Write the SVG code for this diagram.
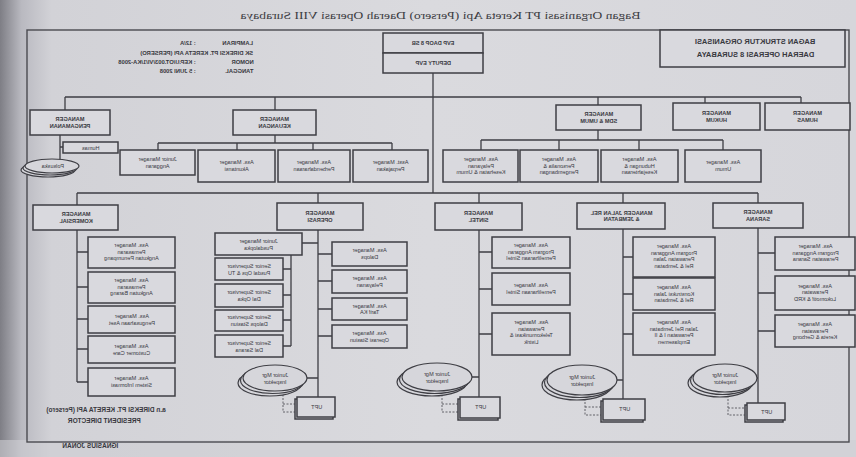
<svg xmlns="http://www.w3.org/2000/svg" width="856" height="457" viewBox="0 0 856 457">
<defs>
<linearGradient id="paper" x1="0" y1="0" x2="1" y2="0">
<stop offset="0" stop-color="#7e7e85"/>
<stop offset="0.025" stop-color="#b9b9c0"/>
<stop offset="0.06" stop-color="#d2d2d7"/>
<stop offset="0.5" stop-color="#dadade"/>
<stop offset="1" stop-color="#d6d6db"/>
</linearGradient>
</defs>
<style>
.b{fill:#d9d9de;stroke:#3e3e44;stroke-width:1.5}
.c{fill:none;stroke:#3e3e44;stroke-width:1.3}
.d{fill:none;stroke:#55555b;stroke-width:0.9;stroke-dasharray:2 1.5}
.e{fill:#d6d6db;stroke:#3e3e44;stroke-width:1.2}
text{font-family:"Liberation Sans",Arial,sans-serif;font-size:5.5px;fill:#38383e;text-anchor:middle;transform-box:fill-box;transform-origin:center;transform:scaleX(-1)}
.m{font-weight:bold;font-size:5.6px}
.ti{font-family:"Liberation Serif","Times New Roman",serif;font-size:10.5px;fill:#3c3c42}
.hd{font-weight:bold;font-size:7.5px}
.nt{font-size:5.8px;font-weight:bold;text-anchor:end}
.ft{font-size:6.5px;font-weight:bold}
</style>
<rect x="0" y="0" width="856" height="457" fill="url(#paper)"/>
<rect x="0" y="440" width="856" height="17" fill="#cfcfd4" opacity="0.6"/>

<!-- title and notes -->
<g id="title"><text class="ti" x="440" y="19" textLength="400" lengthAdjust="spacingAndGlyphs">Bagan Organisasi PT Kereta Api (Persero) Daerah Operasi VIII Surabaya</text></g>
<rect x="27" y="30" width="822" height="412" fill="none" stroke="#4a4a50" stroke-width="1.4"/>
<g id="note">
<text class="nt" x="253" y="45">LAMPIRAN</text><text class="nt" x="195" y="45">: 12/A</text>
<text class="nt" x="253" y="55">SK DIREKSI PT. KERETA API (PERSERO)</text>
<text class="nt" x="253" y="64">NOMOR</text><text class="nt" x="195" y="64">: KEP.U/OT.003/VI/1/KA-2008</text>
<text class="nt" x="253" y="73">TANGGAL</text><text class="nt" x="195" y="73">: 5 JUNI 2008</text>
</g>
<g id="n-title-box"><rect class="b" x="660" y="30" width="185" height="37"/>
<text class="hd" x="755" y="44">BAGAN STRUKTUR ORGANISASI</text>
<text class="hd" x="755" y="57">DAERAH OPERASI 8 SURABAYA</text></g>

<!-- connectors -->
<g id="connectors">
<path class="c" d="M433 73V193"/>
<path class="c" d="M65 97H801M65 97V110M275 97V110M598 97V105M705 97V103M801 97V103"/>
<path class="c" d="M60 135V160M60 147H63"/>
<path class="c" d="M275 135V143M158 143H392M158 143V150M237 143V150M313 143V150M392 143V150"/>
<path class="c" d="M598 130V140M481 140H723M481 140V150M559 140V150M639 140V150M723 140V150"/>
<path class="c" d="M77 193H758M77 193V205M318 193V203M479 193V203M623 193V203M758 193V203"/>
<path class="c" d="M77 230V382M77 252H88M77 287H88M77 319H88M77 349H88M77 382H88"/>
<path class="c" d="M318 230V397M302 243H318M291 255V346M283 269H291M283 295H291M283 320H291M283 346H291M318 254H332M318 281H332M318 309H332M318 336H332M307 378H318"/>
<path class="c" d="M479 230V397M479 252H492M479 289H492M479 334H492M472 377H479"/>
<path class="c" d="M623 229V399M623 257H633M623 294H633M623 334H633M617 380H623"/>
<path class="c" d="M758 228V403M758 253H775M758 293H775M758 331H775M757 378H758"/>
<path class="d" d="M283 391V412H297M283 404H297"/>
<path class="d" d="M442 391V412H460M442 404H460"/>
<path class="d" d="M585 395V415H603M585 407H603"/>
<path class="d" d="M728 392V415H747M728 408H747"/>
</g>

<!-- level 1 -->
<g id="n-evp"><rect class="b" x="383" y="33" width="100" height="20"/><text class="m" x="433" y="45">EVP DAOP 8 SB</text></g>
<g id="n-deputy"><rect class="b" x="383" y="53" width="100" height="20"/><text class="m" x="433" y="65">DEPUTY EVP</text></g>

<!-- level 2 -->
<g id="n-pengamanan"><rect class="b" x="30" y="110" width="80" height="25"/><text class="m" x="70" y="121"><tspan x="70">MANAGER</tspan><tspan x="70" dy="6.5">PENGAMANAN</tspan></text></g>
<g id="n-humas-kecil"><rect class="b" x="63" y="142" width="55" height="11"/><text x="90.5" y="149.5">Humas</text></g>
<g id="n-polsuska"><ellipse class="e" cx="48" cy="170" rx="27" ry="7"/><ellipse class="e" cx="50" cy="168" rx="27" ry="7"/><ellipse class="e" cx="52" cy="166" rx="27" ry="7"/><text x="52" y="168">Polsuska</text></g>

<g id="n-keuangan"><rect class="b" x="233" y="110" width="83" height="25"/><text class="m" x="274.5" y="121"><tspan x="274.5">MANAGER</tspan><tspan x="274.5" dy="6.5">KEUANGAN</tspan></text></g>
<g id="n-k1"><rect class="b" x="120" y="150" width="75" height="25"/><text x="157.5" y="161"><tspan x="157.5">Junior Manager</tspan><tspan x="157.5" dy="6.5">Anggaran</tspan></text></g>
<g id="n-k2"><rect class="b" x="198" y="150" width="77" height="32"/><text x="236.5" y="164"><tspan x="236.5">Ass. Manager</tspan><tspan x="236.5" dy="6.5">Akuntansi</tspan></text></g>
<g id="n-k3"><rect class="b" x="278" y="150" width="72" height="32"/><text x="314" y="164"><tspan x="314">Ass. Manager</tspan><tspan x="314" dy="6.5">Perbendaharaan</tspan></text></g>
<g id="n-k4"><rect class="b" x="353" y="150" width="75" height="32"/><text x="390.5" y="164"><tspan x="390.5">Asst. Manager</tspan><tspan x="390.5" dy="6.5">Perpajakan</tspan></text></g>

<g id="n-sdm"><rect class="b" x="556" y="105" width="85" height="25"/><text class="m" x="598.5" y="116"><tspan x="598.5">MANAGER</tspan><tspan x="598.5" dy="6.5">SDM &amp; UMUM</tspan></text></g>
<g id="n-s1"><rect class="b" x="443" y="150" width="75" height="32"/><text x="480.5" y="161"><tspan x="480.5">Ass. Manager</tspan><tspan x="480.5" dy="6.5">Pelayanan</tspan><tspan x="480.5" dy="6.5">Kesehatan &amp; Umum</tspan></text></g>
<g id="n-s2"><rect class="b" x="520" y="150" width="78" height="32"/><text x="559" y="161"><tspan x="559">Ass. Manager</tspan><tspan x="559" dy="6.5">Personalia &amp;</tspan><tspan x="559" dy="6.5">Pengembangan</tspan></text></g>
<g id="n-s3"><rect class="b" x="601" y="150" width="77" height="32"/><text x="639.5" y="161"><tspan x="639.5">Ass. Manager</tspan><tspan x="639.5" dy="6.5">Hubungan &amp;</tspan><tspan x="639.5" dy="6.5">Kesejahteraan</tspan></text></g>
<g id="n-s4"><rect class="b" x="685" y="150" width="76" height="32"/><text x="723" y="164"><tspan x="723">Ass. Manager</tspan><tspan x="723" dy="6.5">Umum</tspan></text></g>

<g id="n-hukum"><rect class="b" x="673" y="103" width="87" height="27"/><text class="m" x="716.5" y="115"><tspan x="716.5">MANAGER</tspan><tspan x="716.5" dy="6.5">HUKUM</tspan></text></g>
<g id="n-humas"><rect class="b" x="765" y="103" width="85" height="27"/><text class="m" x="807.5" y="115"><tspan x="807.5">MANAGER</tspan><tspan x="807.5" dy="6.5">HUMAS</tspan></text></g>

<!-- level 3: komersial -->
<g id="n-komersial"><rect class="b" x="33" y="205" width="85" height="25"/><text class="m" x="75.5" y="216"><tspan x="75.5">MANAGER</tspan><tspan x="75.5" dy="6.5">KOMERSIAL</tspan></text></g>
<g id="n-c1"><rect class="b" x="88" y="237" width="87" height="31"/><text x="131.5" y="247"><tspan x="131.5">Ass. Manager</tspan><tspan x="131.5" dy="6.5">Pemasaran</tspan><tspan x="131.5" dy="6.5">Angkutan Penumpang</tspan></text></g>
<g id="n-c2"><rect class="b" x="88" y="272" width="87" height="31"/><text x="131.5" y="282"><tspan x="131.5">Ass. Manager</tspan><tspan x="131.5" dy="6.5">Pemasaran</tspan><tspan x="131.5" dy="6.5">Angkutan Barang</tspan></text></g>
<g id="n-c3"><rect class="b" x="88" y="306" width="87" height="27"/><text x="131.5" y="318"><tspan x="131.5">Ass. Manager</tspan><tspan x="131.5" dy="6.5">Pengusahaan Aset</tspan></text></g>
<g id="n-c4"><rect class="b" x="88" y="336" width="87" height="27"/><text x="131.5" y="348"><tspan x="131.5">Ass. Manager</tspan><tspan x="131.5" dy="6.5">Customer Care</tspan></text></g>
<g id="n-c5"><rect class="b" x="88" y="368" width="87" height="28"/><text x="131.5" y="380"><tspan x="131.5">Ass. Manager</tspan><tspan x="131.5" dy="6.5">Sistem Informasi</tspan></text></g>

<!-- level 3: operasi -->
<g id="n-operasi"><rect class="b" x="277" y="203" width="86" height="27"/><text class="m" x="320" y="215"><tspan x="320">MANAGER</tspan><tspan x="320" dy="6.5">OPERASI</tspan></text></g>
<g id="n-oj"><rect class="b" x="215" y="233" width="87" height="22"/><text x="258.5" y="243"><tspan x="258.5">Junior Manager</tspan><tspan x="258.5" dy="6.5">Pusdalopka</tspan></text></g>
<g id="n-os1"><rect class="b" x="215" y="258" width="68" height="22"/><text x="249" y="268"><tspan x="249">Senior Supervisor</tspan><tspan x="249" dy="6.5">Pusdal Ops &amp; TU</tspan></text></g>
<g id="n-os2"><rect class="b" x="215" y="284" width="68" height="23"/><text x="249" y="294"><tspan x="249">Senior Supervisor</tspan><tspan x="249" dy="6.5">Dal Opka</tspan></text></g>
<g id="n-os3"><rect class="b" x="215" y="310" width="68" height="21"/><text x="249" y="319"><tspan x="249">Senior Supervisor</tspan><tspan x="249" dy="6.5">Dalops Stasiun</tspan></text></g>
<g id="n-os4"><rect class="b" x="215" y="335" width="68" height="22"/><text x="249" y="345"><tspan x="249">Senior Supervisor</tspan><tspan x="249" dy="6.5">Dal Sarana</tspan></text></g>
<g id="n-o1"><rect class="b" x="332" y="242" width="75" height="24"/><text x="369.5" y="252"><tspan x="369.5">Ass. Manager</tspan><tspan x="369.5" dy="6.5">Dalops</tspan></text></g>
<g id="n-o2"><rect class="b" x="332" y="270" width="75" height="23"/><text x="369.5" y="280"><tspan x="369.5">Ass. Manager</tspan><tspan x="369.5" dy="6.5">Pelayanan</tspan></text></g>
<g id="n-o3"><rect class="b" x="332" y="298" width="75" height="22"/><text x="369.5" y="307.5"><tspan x="369.5">Ass. Manager</tspan><tspan x="369.5" dy="6.5">Tarif KA</tspan></text></g>
<g id="n-o4"><rect class="b" x="332" y="325" width="75" height="23"/><text x="369.5" y="335"><tspan x="369.5">Ass. Manager</tspan><tspan x="369.5" dy="6.5">Operasi Stasiun</tspan></text></g>
<g id="n-oins"><ellipse class="e" cx="270" cy="383" rx="32" ry="13"/><ellipse class="e" cx="272.5" cy="380.5" rx="32" ry="13"/><ellipse class="e" cx="275" cy="378" rx="32" ry="13"/><text x="275" y="377"><tspan x="275">Junior Mgr</tspan><tspan x="275" dy="6.5">Inspektor</tspan></text></g>
<g id="n-oupt"><rect class="b" x="295" y="399" width="38" height="20"/><rect class="b" x="297" y="397" width="38" height="20"/><text x="316" y="409">UPT</text></g>

<!-- level 3: sintel -->
<g id="n-sintel"><rect class="b" x="435" y="203" width="87" height="27"/><text class="m" x="478.5" y="215"><tspan x="478.5">MANAGER</tspan><tspan x="478.5" dy="6.5">SINTEL</tspan></text></g>
<g id="n-i1"><rect class="b" x="492" y="237" width="78" height="31"/><text x="531" y="247"><tspan x="531">Ass. Manager</tspan><tspan x="531" dy="6.5">Program Anggaran</tspan><tspan x="531" dy="6.5">Pemeliharaan Sintel</tspan></text></g>
<g id="n-i2"><rect class="b" x="492" y="273" width="78" height="32"/><text x="531" y="287"><tspan x="531">Ass. Manager</tspan><tspan x="531" dy="6.5">Pemeliharaan Sintel</tspan></text></g>
<g id="n-i3"><rect class="b" x="492" y="313" width="78" height="42"/><text x="531" y="324"><tspan x="531">Ass. Manager</tspan><tspan x="531" dy="6.5">Perawatan</tspan><tspan x="531" dy="6.5">Telekomunikasi &amp;</tspan><tspan x="531" dy="6.5">Listrik</tspan></text></g>
<g id="n-iins"><ellipse class="e" cx="432" cy="382" rx="35" ry="14"/><ellipse class="e" cx="434.5" cy="379.5" rx="35" ry="14"/><ellipse class="e" cx="437" cy="377" rx="35" ry="14"/><text x="437" y="376"><tspan x="437">Junior Mgr</tspan><tspan x="437" dy="6.5">Inspektor</tspan></text></g>
<g id="n-iupt"><rect class="b" x="458" y="399" width="40" height="21"/><rect class="b" x="460" y="397" width="40" height="21"/><text x="480" y="409">UPT</text></g>

<!-- level 3: jalan rel -->
<g id="n-jalan"><rect class="b" x="577" y="203" width="88" height="26"/><text class="m" x="621" y="214.5"><tspan x="621">MANAGER JALAN REL</tspan><tspan x="621" dy="6.5">&amp; JEMBATAN</tspan></text></g>
<g id="n-j1"><rect class="b" x="633" y="237" width="82" height="40"/><text x="674" y="248"><tspan x="674">Ass. Manager</tspan><tspan x="674" dy="6.5">Program Anggaran</tspan><tspan x="674" dy="6.5">Perawatan Jalan</tspan><tspan x="674" dy="6.5">Rel &amp; Jembatan</tspan></text></g>
<g id="n-j2"><rect class="b" x="633" y="278" width="82" height="32"/><text x="674" y="289"><tspan x="674">Ass. Manager</tspan><tspan x="674" dy="6.5">Konstruksi Jalan</tspan><tspan x="674" dy="6.5">Rel &amp; Jembatan</tspan></text></g>
<g id="n-j3"><rect class="b" x="633" y="313" width="82" height="42"/><text x="674" y="324"><tspan x="674">Ass. Manager</tspan><tspan x="674" dy="6.5">Jalan Rel Jembatan</tspan><tspan x="674" dy="6.5">Perawatan I &amp; II</tspan><tspan x="674" dy="6.5">Emplasemen</tspan></text></g>
<g id="n-jins"><ellipse class="e" cx="577" cy="385" rx="35" ry="15"/><ellipse class="e" cx="579.5" cy="382.5" rx="35" ry="15"/><ellipse class="e" cx="582" cy="380" rx="35" ry="15"/><text x="582" y="379"><tspan x="582">Junior Mgr</tspan><tspan x="582" dy="6.5">Inspektor</tspan></text></g>
<g id="n-jupt"><rect class="b" x="601" y="401" width="42" height="21"/><rect class="b" x="603" y="399" width="42" height="21"/><text x="624" y="411">UPT</text></g>

<!-- level 3: sarana -->
<g id="n-sarana"><rect class="b" x="713" y="203" width="90" height="25"/><text class="m" x="758" y="214"><tspan x="758">MANAGER</tspan><tspan x="758" dy="6.5">SARANA</tspan></text></g>
<g id="n-r1"><rect class="b" x="775" y="237" width="80" height="33"/><text x="815" y="248"><tspan x="815">Ass. Manager</tspan><tspan x="815" dy="6.5">Program Anggaran</tspan><tspan x="815" dy="6.5">Perawatan Sarana</tspan></text></g>
<g id="n-r2"><rect class="b" x="775" y="276" width="80" height="34"/><text x="815" y="287.5"><tspan x="815">Ass. Manager</tspan><tspan x="815" dy="6.5">Perawatan</tspan><tspan x="815" dy="6.5">Lokomotif &amp; KRD</tspan></text></g>
<g id="n-r3"><rect class="b" x="775" y="315" width="80" height="32"/><text x="815" y="326"><tspan x="815">Ass. Manager</tspan><tspan x="815" dy="6.5">Perawatan</tspan><tspan x="815" dy="6.5">Kereta &amp; Gerbong</tspan></text></g>
<g id="n-rins"><ellipse class="e" cx="720" cy="383" rx="32" ry="14"/><ellipse class="e" cx="722.5" cy="380.5" rx="32" ry="14"/><ellipse class="e" cx="725" cy="378" rx="32" ry="14"/><text x="725" y="377"><tspan x="725">Junior Mgr</tspan><tspan x="725" dy="6.5">Inspektor</tspan></text></g>
<g id="n-rupt"><rect class="b" x="745" y="405" width="38" height="17"/><rect class="b" x="747" y="403" width="38" height="17"/><text x="766" y="413.5">UPT</text></g>

<!-- footer -->
<g id="footer">
<text class="ft" x="106" y="412">a.n DIREKSI PT. KERETA API (Persero)</text>
<text class="ft" x="104" y="423">PRESIDENT DIRECTOR</text>
<text class="ft" x="90" y="448">IGNASIUS JONAN</text>
</g>
</svg>
